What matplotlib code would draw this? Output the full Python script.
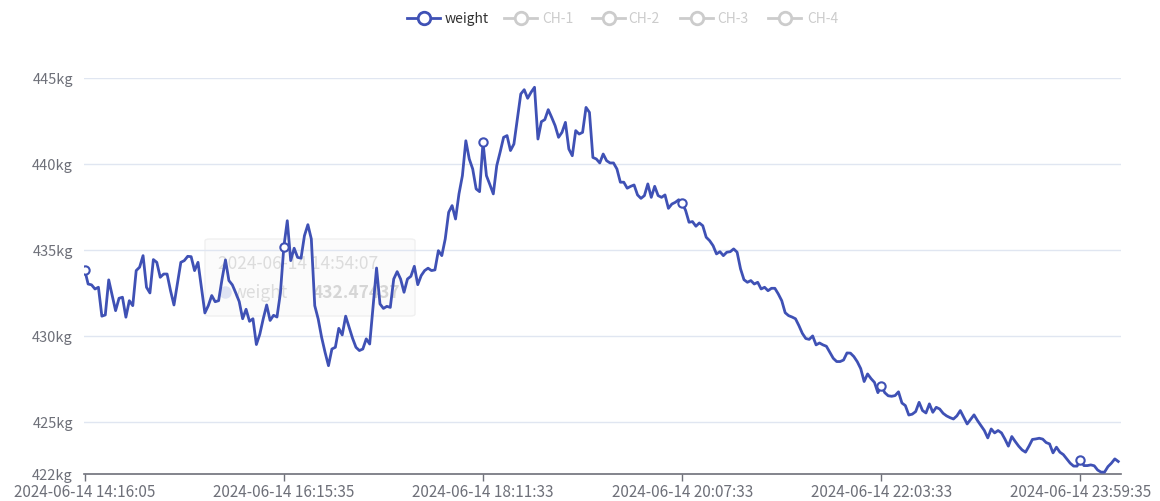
import matplotlib
matplotlib.use("Agg")
import matplotlib.pyplot as plt
from matplotlib.patches import FancyBboxPatch
from matplotlib.lines import Line2D
import numpy as np

plt.rcParams['font.family'] = ['Noto Sans CJK SC', 'DejaVu Sans']

# ---------------- data ----------------
weight = [
    433.84, 433.02, 432.97, 432.73, 432.83, 431.15, 431.22, 433.26, 432.35, 431.47,
    432.19, 432.25, 431.09, 432.05, 431.76, 433.80, 434.00, 434.67, 432.83, 432.50,
    434.44, 434.28, 433.41, 433.60, 433.60, 432.63, 431.80, 433.02, 434.28, 434.38,
    434.63, 434.61, 433.80, 434.28, 432.83, 431.34, 431.76, 432.35, 431.99, 432.05,
    433.30, 434.42, 433.22, 432.97, 432.50, 432.00, 431.00, 431.55, 430.85, 431.00,
    429.50, 430.10, 431.00, 431.80, 430.90, 431.20, 431.10, 432.50, 435.19, 436.70,
    434.38, 435.10, 434.57, 434.52, 435.83, 436.47, 435.64, 431.76, 430.99, 429.92,
    429.05, 428.27, 429.24, 429.34, 430.44, 430.06, 431.15, 430.50, 429.87, 429.34,
    429.15, 429.24, 429.83, 429.53, 431.76, 433.95, 431.86, 431.60, 431.72, 431.66,
    433.31, 433.74, 433.31, 432.54, 433.31, 433.47, 434.05, 432.98, 433.51, 433.80,
    433.94, 433.80, 433.84, 434.96, 434.67, 435.64, 437.19, 437.58, 436.80, 438.26,
    439.32, 441.35, 440.29, 439.71, 438.55, 438.39, 441.26, 439.32, 438.80, 438.26,
    439.90, 440.70, 441.55, 441.65, 440.78, 441.16, 442.62, 444.07, 444.32, 443.82,
    444.17, 444.46, 441.45, 442.46, 442.58, 443.16, 442.71, 442.23, 441.55, 441.84,
    442.42, 440.87, 440.48, 441.94, 441.74, 441.84, 443.29, 443.00, 440.38, 440.29,
    440.06, 440.58, 440.19, 440.06, 440.06, 439.71, 438.94, 438.94, 438.59, 438.70,
    438.78, 438.20, 438.00, 438.16, 438.84, 438.06, 438.70, 438.16, 438.06, 438.20,
    437.42, 437.67, 437.77, 437.92, 437.73, 437.30, 436.61, 436.65, 436.38, 436.57,
    436.41, 435.74, 435.54, 435.25, 434.77, 434.90, 434.67, 434.87, 434.90, 435.06,
    434.87, 433.90, 433.27, 433.12, 433.22, 433.02, 433.12, 432.73, 432.83, 432.63,
    432.77, 432.77, 432.44, 432.05, 431.35, 431.18, 431.10, 431.00, 430.60, 430.15,
    429.85, 429.80, 430.00, 429.48, 429.59, 429.48, 429.40, 429.05, 428.70, 428.51,
    428.51, 428.60, 429.01, 429.00, 428.80, 428.50, 428.10, 427.35, 427.79, 427.52,
    427.30, 426.70, 427.11, 426.70, 426.52, 426.49, 426.53, 426.75, 426.10, 425.95,
    425.40, 425.45, 425.60, 426.14, 425.66, 425.52, 426.05, 425.56, 425.85, 425.75,
    425.50, 425.35, 425.25, 425.17, 425.35, 425.66, 425.27, 424.88, 425.14, 425.41,
    425.08, 424.79, 424.50, 424.07, 424.59, 424.36, 424.50, 424.36, 424.00, 423.59,
    424.15, 423.86, 423.59, 423.37, 423.24, 423.59, 423.98, 424.01, 424.05, 424.00,
    423.80, 423.72, 423.20, 423.53, 423.24, 423.10, 422.85, 422.60, 422.43, 422.43,
    422.79, 422.46, 422.46, 422.50, 422.45, 422.20, 422.08, 422.08, 422.40, 422.60,
    422.85, 422.70,
]
tick_labels = ["2024-06-14 14:16:05", "2024-06-14 16:15:35", "2024-06-14 18:11:33",
               "2024-06-14 20:07:33", "2024-06-14 22:03:33", "2024-06-14 23:59:35"]
label_step = 58
y_ticks = [422, 425, 430, 435, 440, 445]
legend_names = ["weight", "CH-1", "CH-2", "CH-3", "CH-4"]
tooltip_time = "2024-06-14 14:54:07"
tooltip_value = "432.47437"

# ---------------- figure ----------------
W, H = 1160, 502
fig = plt.figure(figsize=(W / 100, H / 100), dpi=100)
ax_left, ax_right = 84, 1121
ax_top, ax_bottom = 79, 474.5
ax = fig.add_axes([ax_left / W, 1 - ax_bottom / H, (ax_right - ax_left) / W, (ax_bottom - ax_top) / H])
ax.patch.set_visible(False)
ax.set_zorder(2)

blue = '#3f51b5'
axis_gray = '#6e7079'
grid_c = '#e0e6f1'

x = np.arange(len(weight))
ax.plot(x, weight, color=blue, lw=2.0, zorder=3, solid_joinstyle='round')
mk = x[::label_step]
ax.plot(mk, np.array(weight)[mk], ls='none', marker='o', ms=6, mfc='white', mec=blue, mew=1.5, zorder=4)

ax.set_xlim(-0.2, 301.8)
ax.set_ylim(422, 445)

for s in ['top', 'right', 'left']:
    ax.spines[s].set_visible(False)
ax.spines['bottom'].set_color(axis_gray)
ax.spines['bottom'].set_linewidth(1.2)

ax.set_yticks(y_ticks)
ax.set_yticklabels([f"{v}kg" for v in y_ticks])
ax.tick_params(axis='y', length=0, pad=8, labelsize=10.5, labelcolor=axis_gray)
for v in y_ticks[1:]:
    ax.axhline(v, color=grid_c, lw=1, zorder=1)

xt = list(range(0, len(weight), label_step))[:len(tick_labels)]
ax.set_xticks(xt)
ax.set_xticklabels(tick_labels)
ax.tick_params(axis='x', length=5, width=1, color=axis_gray, pad=2, labelsize=11, labelcolor=axis_gray)

# ---------------- legend ----------------
legend_items = [(407, 445), (504, 542), (592, 628), (680, 717), (768, 807)]
for i, (name, (ix, tx)) in enumerate(zip(legend_names, legend_items)):
    col = blue if i == 0 else '#cccccc'
    yy = 1 - 19 / H
    fig.add_artist(Line2D([ix / W, (ix + 33) / W], [yy, yy], color=col, lw=2, transform=fig.transFigure))
    fig.add_artist(Line2D([(ix + 16.5) / W], [yy], marker='o', ms=9, mfc='white', mec=col, mew=2,
                          transform=fig.transFigure))
    fig.text(tx / W, yy, name, color='#333333' if i == 0 else '#cccccc', fontsize=10, va='center', ha='left')

# ---------------- fading tooltip (behind the plot) ----------------
box = FancyBboxPatch((205 / W, 1 - 317 / H), 210 / W, 77 / H, boxstyle="round,pad=0,rounding_size=0.004",
                     transform=fig.transFigure, facecolor='#fbfbfb', edgecolor='#f0f0f0', lw=1, zorder=0)
fig.add_artist(box)
fig.text(218 / W, 1 - 264 / H, tooltip_time, color='#dcdcdc', fontsize=12.5, va='center', ha='left', zorder=1)
fig.add_artist(Line2D([225 / W], [1 - 293 / H], marker='o', ms=9, color='#dfe3f3', mec='none',
                      transform=fig.transFigure, zorder=1))
fig.text(233 / W, 1 - 293 / H, "weight", color='#dcdcdc', fontsize=12.5, va='center', ha='left', zorder=1)
fig.text(400 / W, 1 - 293 / H, tooltip_value, color='#d6d6d6', fontsize=12.5, va='center', ha='right',
         fontweight='bold', zorder=1)

fig.savefig('out.png', dpi=100)
